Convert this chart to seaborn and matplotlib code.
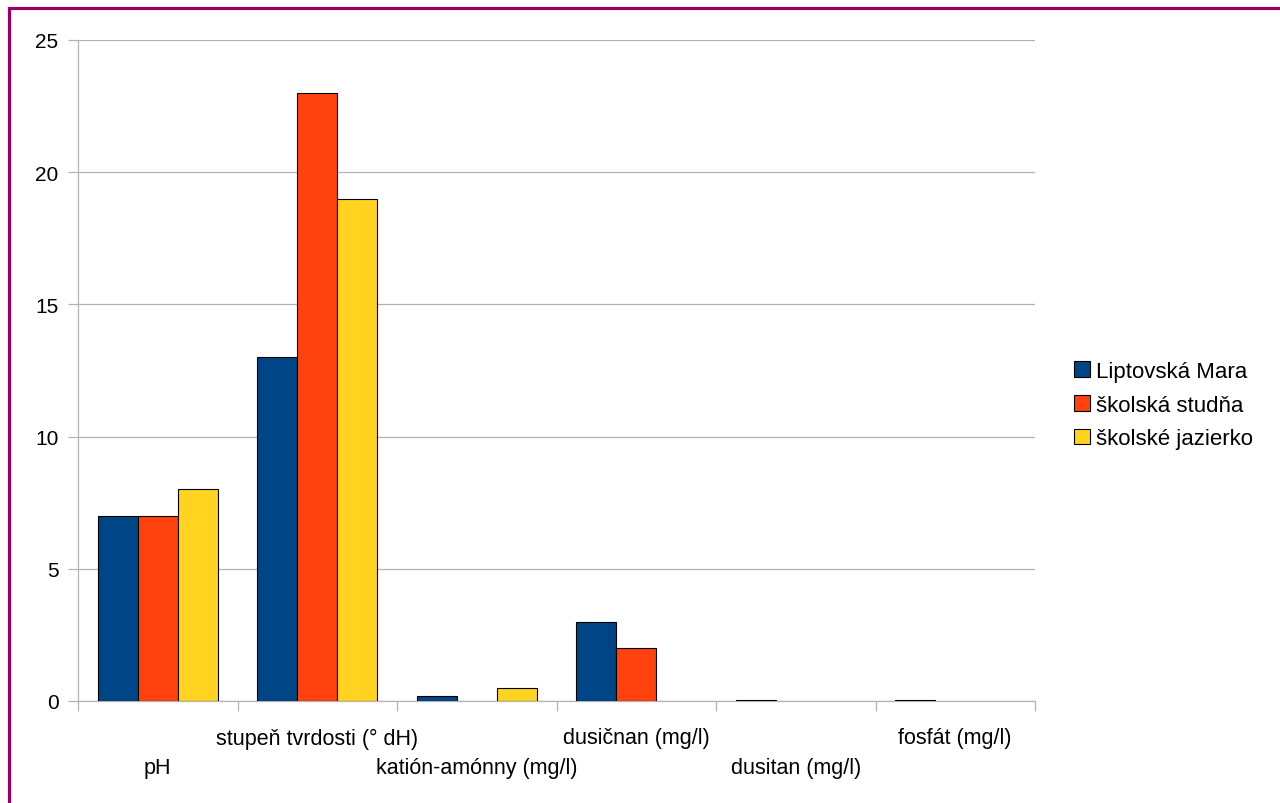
import numpy as np
import pandas as pd
import matplotlib
matplotlib.use("Agg")
import matplotlib.pyplot as plt
from matplotlib.patches import Rectangle
import seaborn as sns

categories = ["pH", "stupeň tvrdosti (° dH)", "katión-amónny (mg/l)",
              "dusičnan (mg/l)", "dusitan (mg/l)", "fosfát (mg/l)"]
series = ["Liptovská Mara", "školská studňa", "školské jazierko"]
liptovska_mara = [7, 13, 0.2, 3, 0.02, 0.05]
skolska_studna = [7, 23, np.nan, 2, np.nan, np.nan]
skolske_jazierko = [8, 19, 0.5, np.nan, np.nan, np.nan]
colors = ["#004586", "#ff420e", "#ffd320"]
yticks = [0, 5, 10, 15, 20, 25]

rows = []
for name, vals in zip(series, [liptovska_mara, skolska_studna, skolske_jazierko]):
    for cat, v in zip(categories, vals):
        rows.append({"kategória": cat, "lokalita": name, "hodnota": v})
df = pd.DataFrame(rows)

sns.set_theme(style="white")
plt.rcParams["font.family"] = ["Liberation Sans", "DejaVu Sans"]
plt.rcParams["text.color"] = "black"

fs = 15.5
fig = plt.figure(figsize=(12.8, 8.04), dpi=100)
ax = fig.add_axes([78 / 1280, 1 - 702 / 804, (1035 - 78) / 1280, (702 - 41) / 804])

sns.barplot(data=df.dropna(), x="kategória", y="hodnota", hue="lokalita",
            order=categories, hue_order=series, palette=colors, saturation=1,
            width=0.75, edgecolor="black", linewidth=0.8, ax=ax, errorbar=None,
            zorder=3)

grid_c = "#b3b3b3"
ax.set_xlim(-0.5, len(categories) - 0.5)
ax.set_ylim(0, 25)
ax.set_yticks(yticks)
ax.set_yticklabels([str(t) for t in yticks], fontsize=15, color="black")
ax.yaxis.grid(True, color=grid_c, linewidth=0.9, zorder=0)
ax.set_axisbelow(True)
ax.tick_params(axis="y", length=7, width=0.9, color=grid_c, pad=7, left=True)

ax.set_xticks(range(len(categories)))
ax.set_xticklabels(categories, fontsize=fs, color="black")
ax.set_xticks(np.arange(-0.5, len(categories), 1.0), minor=True)
ax.tick_params(axis="x", which="major", length=0)
ax.tick_params(axis="x", which="minor", length=7, width=0.9, color=grid_c, bottom=True)
for i, tick in enumerate(ax.xaxis.get_major_ticks()):
    tick.set_pad(40.5 if i % 2 == 0 else 19)

ax.set_xlabel("")
ax.set_ylabel("")
for side in ["top", "right"]:
    ax.spines[side].set_visible(False)
for side in ["left", "bottom"]:
    ax.spines[side].set_color(grid_c)
    ax.spines[side].set_linewidth(0.9)

handles, labels = ax.get_legend_handles_labels()
ax.get_legend().remove()
leg = fig.legend(handles, labels, loc="center left", bbox_to_anchor=(1054 / 1280, 1 - 406 / 804),
                 frameon=False, fontsize=16, handlelength=0.7, handleheight=0.7,
                 handletextpad=0.3, labelspacing=0.58)
for t in leg.get_texts():
    t.set_color("black")

fig.patches.append(Rectangle((8.5 / 1280, -0.05), 1.2, 1 - 9 / 804 + 0.05,
                             transform=fig.transFigure, fill=False,
                             edgecolor="#990066", linewidth=2.3, clip_on=False))

fig.savefig("out.png", dpi=100)
